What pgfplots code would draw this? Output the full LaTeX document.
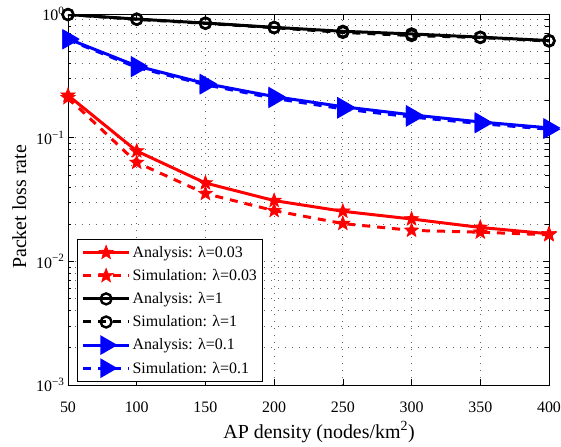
\documentclass[border=0pt]{standalone}
\usepackage{fontspec}
\setmainfont{Liberation Serif}
\usepackage{pgfplots}
\pgfplotsset{compat=1.18}
\pgfdeclareplotmark{pstar}{%
  \pgfpathmoveto{\pgfpointpolar{90}{\pgfplotmarksize}}%
  \pgfpathlineto{\pgfpointpolar{126}{0.42\pgfplotmarksize}}%
  \pgfpathlineto{\pgfpointpolar{162}{\pgfplotmarksize}}%
  \pgfpathlineto{\pgfpointpolar{198}{0.42\pgfplotmarksize}}%
  \pgfpathlineto{\pgfpointpolar{234}{\pgfplotmarksize}}%
  \pgfpathlineto{\pgfpointpolar{270}{0.42\pgfplotmarksize}}%
  \pgfpathlineto{\pgfpointpolar{306}{\pgfplotmarksize}}%
  \pgfpathlineto{\pgfpointpolar{342}{0.42\pgfplotmarksize}}%
  \pgfpathlineto{\pgfpointpolar{18}{\pgfplotmarksize}}%
  \pgfpathlineto{\pgfpointpolar{54}{0.42\pgfplotmarksize}}%
  \pgfpathclose
  \pgfusepathqfillstroke}
\begin{document}
\begin{tikzpicture}
\begin{axis}[
  name=ax,
  scale only axis,
  width=481bp, height=371bp,
  ymode=log,
  xmin=50, xmax=400,
  ymin=1e-3, ymax=1,
  xtick={50,100,...,400},
  ytick={1e-3,1e-2,1e-1,1},
  yticklabels={10\textsuperscript{−3},10\textsuperscript{−2},10\textsuperscript{−1},10\textsuperscript{0}},
  /pgf/number format/assume math mode=true,
  xticklabel style={font=\fontsize{16}{18}\selectfont, anchor=base, yshift=-27bp},
  yticklabel style={font=\fontsize{16}{18}\selectfont},
  tick align=inside,
  major tick length=6bp, minor tick length=3.5bp,
  xmajorgrids, ymajorgrids, yminorgrids,
  major grid style={dash pattern=on 1.2bp off 5.8bp, black!60, line width=1pt},
  minor grid style={dash pattern=on 1.2bp off 5.8bp, black!60, line width=1pt},
  axis line style={line width=1pt},
  every tick/.style={black, line width=0.7pt},
  xlabel={AP density (nodes/km\textsuperscript{2})},
  ylabel={Packet loss rate},
  every axis x label/.style={at={(axis description cs:0.522,-0.143)}, anchor=base, font=\fontsize{20}{22}\selectfont},
  every axis y label/.style={at={(axis description cs:-0.087,0.48)}, anchor=base, rotate=90, font=\fontsize{20}{22}\selectfont},
  legend style={at={(0.019,0.008)}, anchor=south west, font=\fontsize{16}{18}\selectfont,
    draw=black, line width=1pt, row sep=6.4bp, inner xsep=4bp, inner ysep=5bp},
  legend cell align=left,
  legend image code/.code={%
    \draw[mark repeat=2,mark phase=2] plot coordinates {(0bp,0bp) (23bp,0bp) (46bp,0bp)};},
]
% lambda = 0.03
\addplot[red, line width=3pt, mark=pstar, mark size=7.5pt, mark options={solid, fill=red, line width=0.6pt}]
  coordinates {(50,0.22) (100,0.078) (150,0.043) (200,0.031) (250,0.0254) (300,0.022) (350,0.0188) (400,0.0167)};
\addlegendentry{Analysis: λ=0.03}
\addplot[red, line width=3pt, dash pattern=on 8bp off 7bp, mark=pstar, mark size=7.5pt, mark options={solid, fill=red, line width=0.6pt}]
  coordinates {(50,0.21) (100,0.063) (150,0.0353) (200,0.0257) (250,0.0202) (300,0.0178) (350,0.0172) (400,0.0164)};
\addlegendentry{Simulation: λ=0.03}
% lambda = 1
\addplot[black, line width=3pt, mark=o, mark size=5.5pt, mark options={solid, line width=2.4pt}]
  coordinates {(50,0.99) (100,0.91) (150,0.845) (200,0.78) (250,0.725) (300,0.69) (350,0.65) (400,0.61)};
\addlegendentry{Analysis: λ=1}
\addplot[black, line width=3pt, dash pattern=on 8bp off 7bp, mark=o, mark size=5.5pt, mark options={solid, line width=2.4pt}]
  coordinates {(50,0.99) (100,0.905) (150,0.84) (200,0.775) (250,0.71) (300,0.67) (350,0.645) (400,0.605)};
\addlegendentry{Simulation: λ=1}
% lambda = 0.1
\addplot[blue, line width=3pt, mark=triangle*, mark size=8.5pt, mark options={solid, rotate=-90}]
  coordinates {(50,0.63) (100,0.38) (150,0.274) (200,0.215) (250,0.178) (300,0.153) (350,0.134) (400,0.12)};
\addlegendentry{Analysis: λ=0.1}
\addplot[blue, line width=3pt, dash pattern=on 8bp off 7bp, mark=triangle*, mark size=8.5pt, mark options={solid, rotate=-90}]
  coordinates {(50,0.62) (100,0.37) (150,0.268) (200,0.208) (250,0.171) (300,0.147) (350,0.13) (400,0.117)};
\addlegendentry{Simulation: λ=0.1}
\end{axis}
\pgfresetboundingbox
\path ([xshift=-68bp,yshift=-61bp]ax.south west) rectangle ([xshift=12bp,yshift=14bp]ax.north east);
\end{tikzpicture}
\end{document}
